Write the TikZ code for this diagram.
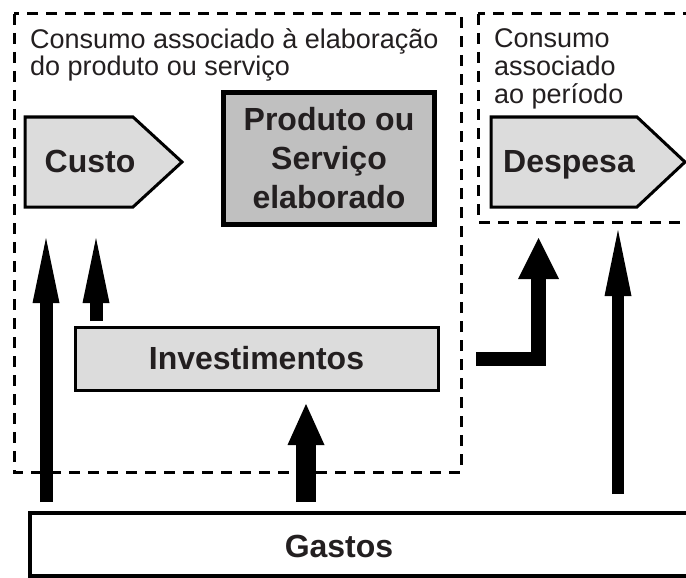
\documentclass[tikz,border=0pt]{standalone}
\usepackage{fontspec}
\setmainfont{Liberation Sans}
\usetikzlibrary{arrows.meta}
\definecolor{boxgray}{RGB}{220,220,220}
\definecolor{prodgray}{RGB}{192,192,192}
\definecolor{ink}{RGB}{35,31,32}
\begin{document}
\begin{tikzpicture}[x=1pt,y=-1pt,
  dashbox/.style={draw=black, line width=3pt, dash pattern=on 11pt off 8pt},
  pentbox/.style={draw=black, line width=3pt, fill=boxgray, line join=miter},
  bold/.style={font=\fontsize{32}{39}\selectfont\bfseries, text=ink, inner sep=0pt},
  note/.style={font=\fontsize{27}{28}\selectfont, text=ink, align=left, inner sep=0pt, anchor=base west},
  bigarrow/.style={draw=black, line width=13pt, -{Triangle[length=65pt,width=27pt,line width=0pt]}},
  fatarrow/.style={draw=black, line width=#1, line join=miter},
]
\useasboundingbox (0,0) rectangle (686,578);

% dashed regions
\draw[dashbox] (14,14) rectangle (461,472);
\draw[dashbox] (478,14) rectangle (720,222);

% notes (anchor = baseline of last line)
\node[note] (notaL) at (30,76) {Consumo associado à elaboração\\do produto ou serviço};
\node[note] (notaR) at (494,103) {Consumo\\associado\\ao período};

% Custo pentagon
\draw[pentbox] (25,117) -- (133,117) -- (182,162) -- (133,207) -- (25,207) -- cycle;
\node[bold, anchor=base] (custo) at (90,172) {Custo};

% Despesa pentagon
\draw[pentbox] (491,117) -- (637,117) -- (685,162) -- (637,207) -- (491,207) -- cycle;
\node[bold, anchor=base] (despesa) at (569,172) {Despesa};

% Produto box
\node[draw=black, line width=4.5pt, fill=prodgray, minimum width=211pt, minimum height=132pt,
      bold, align=center] (produto) at (329,158.5) {Produto ou\\Serviço\\elaborado};

% Investimentos
\node[draw=black, line width=3pt, fill=boxgray, minimum width=363pt, minimum height=63pt, bold]
  (invest) at (256.5,358.5) {Investimentos};

% Gastos
\node[draw=black, line width=3.5pt, fill=white, minimum width=680pt, minimum height=63pt, inner sep=0pt]
  (gastos) at (370,544.5) {};
\node[bold, anchor=base] (gastostxt) at (339,557) {Gastos};

% arrow end points
\coordinate (a1s) at (46,502);  \coordinate (a1e) at (46,238);
\coordinate (a2s) at (96,321);  \coordinate (a2e) at (96,238);
\coordinate (a3s) at (306,502); \coordinate (a3e) at (306,404);
\coordinate (a4s) at (476,359); \coordinate (a4e) at (538.5,238);
\coordinate (a5s) at (618,494); \coordinate (a5e) at (618,230);

\draw[bigarrow] (a1s) -- (a1e);
\draw[bigarrow] (a2s) -- (a2e);
\draw[fatarrow=20pt, -{Triangle[length=41pt,width=37pt,line width=0pt]}] (a3s) -- (a3e);
\draw[fatarrow=14.5pt, -{Triangle[length=41pt,width=41pt,line width=0pt]}] (a4s) -| (a4e);
\draw[draw=black, line width=12pt, -{Triangle[length=66pt,width=27pt,line width=0pt]}] (a5s) -- (a5e);
\end{tikzpicture}
\end{document}
